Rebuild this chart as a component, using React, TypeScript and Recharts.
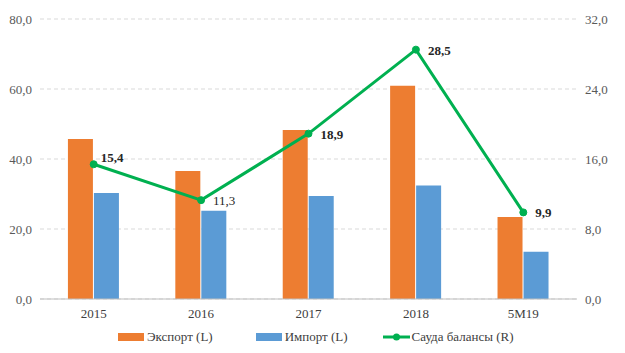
import { ComposedChart, Bar, Line, XAxis, YAxis, CartesianGrid, LabelList } from "recharts";

const categories = ["2015", "2016", "2017", "2018", "5M19"];
const exportValues = [45.7, 36.6, 48.3, 60.9, 23.4];
const importValues = [30.3, 25.2, 29.4, 32.4, 13.5];
const balanceValues = [15.4, 11.3, 18.9, 28.5, 9.9];
const leftTicks = [0, 20, 40, 60, 80];
const rightTicks = [0, 8, 16, 24, 32];

const data = categories.map((c, i) => ({
  name: c,
  exp: exportValues[i],
  imp: importValues[i],
  bal: balanceValues[i],
}));

const FONT = "Liberation Serif, DejaVu Serif, serif";
const fmt = (v: number) => v.toFixed(1).replace(".", ",");

// labels sit level to the right of the point; 2015 is nudged up, 2016 isn't bold
function BalanceLabel(props: any) {
  const { x, y, value, index } = props;
  const first = index === 0;
  return (
    <text
      x={x + (first ? 7 : 12)}
      y={y + (first ? -2 : 5)}
      style={{ fontFamily: FONT }}
      fontSize={13}
      fontWeight={index === 1 ? "normal" : "bold"}
      fill="#262626"
    >
      {fmt(Number(value))}
    </text>
  );
}

function LegendRow() {
  const items = [
    { label: "Экспорт (L)", color: "#ED7D31", kind: "bar" },
    { label: "Импорт (L)", color: "#5B9BD5", kind: "bar" },
    { label: "Сауда балансы (R)", color: "#00B050", kind: "line" },
  ];
  return (
    <div style={{ position: "absolute", top: 329, left: 118, display: "flex", fontFamily: FONT, fontSize: 13, color: "#404040" }}>
      {items.map((it, i) => (
        <div key={i} style={{ display: "flex", alignItems: "center", marginRight: i === 0 ? 43 : 35 }}>
          <svg width={27} height={12} style={{ marginRight: 2 }}>
            {it.kind === "bar" ? (
              <rect x={0} y={2} width={26} height={8} fill={it.color} />
            ) : (
              <g>
                <line x1={0} y1={6} x2={27} y2={6} stroke={it.color} strokeWidth={3} />
                <circle cx={13.5} cy={6} r={3.5} fill={it.color} />
              </g>
            )}
          </svg>
          <span>{it.label}</span>
        </div>
      ))}
    </div>
  );
}

const tickStyle = { fill: "#595959", fontSize: 13, style: { fontFamily: FONT } };

export default function App() {
  return (
    <div style={{ position: "absolute", top: 0, left: 0, width: 625, height: 353, background: "#fff", fontFamily: FONT }}>
      <ComposedChart width={625} height={353} data={data} margin={{ top: 19, right: 0, bottom: 24, left: 0 }} barCategoryGap="26%" barGap={1} style={{ fontFamily: FONT }}>
        <CartesianGrid vertical={false} stroke="#d9d9d9" strokeDasharray="4 3" yAxisId="left" />
        <XAxis dataKey="name" axisLine={{ stroke: "#bfbfbf" }} tickLine={false} tick={{ ...tickStyle, fill: "#404040" }} dy={2} />
        <YAxis yAxisId="left" domain={[0, 80]} ticks={leftTicks} tickFormatter={fmt} axisLine={false} tickLine={false} width={40} tick={tickStyle} />
        <YAxis yAxisId="right" orientation="right" domain={[0, 32]} ticks={rightTicks} tickFormatter={fmt} axisLine={false} tickLine={false} width={48} tick={tickStyle} />
        <Bar yAxisId="left" dataKey="exp" fill="#ED7D31" isAnimationActive={false} />
        <Bar yAxisId="left" dataKey="imp" fill="#5B9BD5" isAnimationActive={false} />
        <Line yAxisId="right" dataKey="bal" stroke="#00B050" strokeWidth={3} dot={{ r: 3.5, fill: "#00B050", stroke: "#00B050", strokeWidth: 1 }} isAnimationActive={false}>
          <LabelList dataKey="bal" content={BalanceLabel} />
        </Line>
      </ComposedChart>
      <LegendRow />
    </div>
  );
}
